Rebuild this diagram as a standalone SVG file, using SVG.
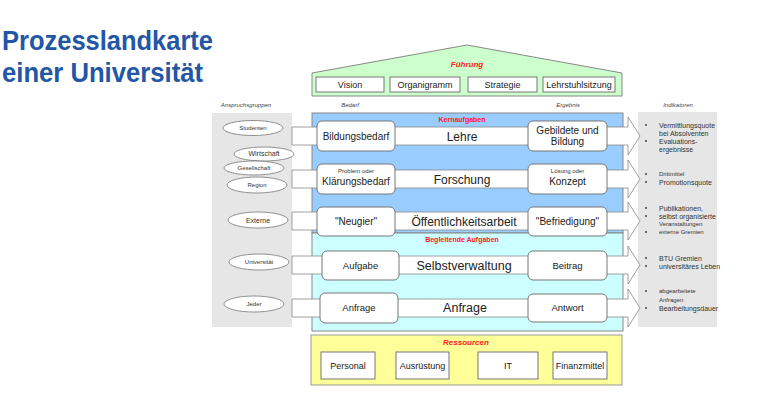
<svg xmlns="http://www.w3.org/2000/svg" width="759" height="417" viewBox="0 0 759 417">
<style>
text{font-family:"Liberation Sans",Arial,sans-serif;fill:#222}
.title{font-weight:bold;fill:#2356a5;font-size:27px}
.sec{fill:#ff2020;font-weight:bold;font-style:italic;font-size:8px}
.sec2{fill:#ff2020;font-weight:bold;font-size:7px}
.hdr{font-style:italic;font-size:6px;fill:#444}
.box{fill:#fff;stroke:#777;stroke-width:1}
.rbox{fill:#fff;stroke:#777;stroke-width:1}
.strip{fill:#fff;stroke:#888;stroke-width:0.8}
.ell{fill:#fff;stroke:#777;stroke-width:0.8}
.panel{fill:#e6e6e6}
.t9{font-size:9px;text-anchor:middle}
.t10{font-size:10px;text-anchor:middle}
.t6{font-size:6px;text-anchor:middle;fill:#333}
.main{font-size:12px;text-anchor:middle}
.ind{font-size:7px;fill:#333}
.ind6{font-size:6px;fill:#333}
</style>
<rect width="759" height="417" fill="#fff"/>
<g id="title">
<text class="title" x="2" y="50" textLength="211" lengthAdjust="spacingAndGlyphs">Prozesslandkarte</text>
<text class="title" x="2" y="82" textLength="201" lengthAdjust="spacingAndGlyphs">einer Universität</text>
</g>
<g id="fuehrung">
<polygon points="312,73 467,45 622,73 622,96 312,96" fill="#ccffcc" stroke="#888" stroke-width="1"/>
<text class="sec" x="467" y="67" text-anchor="middle">Führung</text>
<rect class="box" x="316" y="77" width="68" height="15"/>
<text class="t9" x="350" y="88">Vision</text>
<rect class="box" x="390" y="77" width="70" height="15"/>
<text class="t9" x="425" y="88">Organigramm</text>
<rect class="box" x="468" y="77" width="69" height="15"/>
<text class="t9" x="502.5" y="88">Strategie</text>
<rect class="box" x="543" y="77" width="72" height="15"/>
<text class="t9" x="579" y="88">Lehrstuhlsitzung</text>
</g>
<g id="headers">
<text class="hdr" x="246" y="107" text-anchor="middle">Anspruchsgruppen</text>
<text class="hdr" x="350" y="107" text-anchor="middle">Bedarf</text>
<text class="hdr" x="568" y="107" text-anchor="middle">Ergebnis</text>
<text class="hdr" x="678" y="107" text-anchor="middle">Indikatoren</text>
</g>
<g id="panels">
<rect class="panel" x="212" y="113" width="80" height="214"/>
<rect class="panel" x="638" y="112" width="79" height="215"/>
<rect x="312" y="113" width="311" height="120" fill="#99ccff" stroke="#888" stroke-width="1"/>
<rect x="312" y="233" width="311" height="98" fill="#ccffff" stroke="#888" stroke-width="1"/>
<text class="sec2" x="462" y="122" text-anchor="middle">Kernaufgaben</text>
<text class="sec2" x="462" y="242" text-anchor="middle">Begleitende Aufgaben</text>
</g>
<g id="stakeholders">
<ellipse class="ell" cx="253" cy="128" rx="30" ry="7.5"/>
<text class="t6" x="253" y="130">Studenten</text>
<ellipse class="ell" cx="264" cy="154" rx="30" ry="7"/>
<text class="t6" x="264" y="156" style="font-size:7px">Wirtschaft</text>
<ellipse class="ell" cx="254" cy="168" rx="30" ry="7"/>
<text class="t6" x="254" y="170">Gesellschaft</text>
<ellipse class="ell" cx="257" cy="185" rx="30" ry="8"/>
<text class="t6" x="257" y="187">Region</text>
<ellipse class="ell" cx="258" cy="220" rx="30" ry="8"/>
<text class="t6" x="258" y="222.5" style="font-size:7px">Externe</text>
<ellipse class="ell" cx="259" cy="262" rx="30" ry="8"/>
<text class="t6" x="259" y="264">Universität</text>
<ellipse class="ell" cx="254" cy="304" rx="30" ry="8"/>
<text class="t6" x="254" y="306">Jeder</text>
</g>
<g id="connectors">
<polygon class="strip" points="292,127 628,127 628,117 640,136 628,155 628,145 292,145"/>
<polygon class="strip" points="292,170 628,170 628,160 640,179 628,198 628,188 292,188"/>
<polygon class="strip" points="292,212 628,212 628,202 640,221 628,240 628,230 292,230"/>
<polygon class="strip" points="292,256 628,256 628,246 640,265 628,284 628,274 292,274"/>
<polygon class="strip" points="292,299 628,299 628,289 640,308 628,327 628,317 292,317"/>
</g>
<g id="row-lehre">
<rect class="rbox" x="317" y="121" width="78" height="30" rx="5"/>
<text class="t10" x="356" y="139.5">Bildungsbedarf</text>
<text class="main" x="462" y="140.5">Lehre</text>
<rect class="rbox" x="528" y="121" width="79" height="30" rx="5"/>
<text class="t10" x="567.5" y="133.5">Gebildete und</text>
<text class="t10" x="567.5" y="145">Bildung</text>
</g>
<g id="row-forschung">
<rect class="rbox" x="317" y="164" width="78" height="30" rx="5"/>
<text class="t6" x="356" y="172.5">Problem oder</text>
<text class="t10" x="356" y="185">Klärungsbedarf</text>
<text class="main" x="462" y="183.5">Forschung</text>
<rect class="rbox" x="528" y="164" width="79" height="30" rx="5"/>
<text class="t6" x="567.5" y="172.5">Lösung oder</text>
<text class="t10" x="567.5" y="185">Konzept</text>
</g>
<g id="row-oeffentlichkeit">
<rect class="rbox" x="317" y="207" width="78" height="29" rx="5"/>
<text class="t10" x="356" y="224.5">"Neugier"</text>
<text class="main" x="464" y="225.5">Öffentlichkeitsarbeit</text>
<rect class="rbox" x="528" y="207" width="79" height="29" rx="5"/>
<text class="t10" x="567.5" y="224.5">"Befriedigung"</text>
</g>
<g id="row-selbstverwaltung">
<rect class="rbox" x="322" y="251" width="77" height="29" rx="5"/>
<text class="t9" x="360.5" y="268.5" style="font-size:9.5px">Aufgabe</text>
<text class="main" x="464" y="269.5" style="font-size:12.5px">Selbstverwaltung</text>
<rect class="rbox" x="528" y="251" width="79" height="29" rx="5"/>
<text class="t9" x="567.5" y="268.5" style="font-size:9.5px">Beitrag</text>
</g>
<g id="row-anfrage">
<rect class="rbox" x="320" y="293" width="78" height="30" rx="5"/>
<text class="t9" x="359" y="311" style="font-size:9.5px">Anfrage</text>
<text class="main" x="465" y="312" style="font-size:12.5px">Anfrage</text>
<rect class="rbox" x="528" y="294" width="79" height="28" rx="5"/>
<text class="t9" x="567.5" y="311" style="font-size:9.5px">Antwort</text>
</g>
<g id="indicators">
<g fill="#333">
<circle cx="646" cy="125" r="0.9"/><circle cx="646" cy="141" r="0.9"/>
<circle cx="646" cy="174" r="0.9"/><circle cx="646" cy="182" r="0.9"/>
<circle cx="646" cy="208" r="0.9"/><circle cx="646" cy="216" r="0.9"/><circle cx="646" cy="232" r="0.9"/>
<circle cx="646" cy="258" r="0.9"/><circle cx="646" cy="266" r="0.9"/>
<circle cx="646" cy="291" r="0.9"/><circle cx="646" cy="308" r="0.9"/>
</g>
<text class="ind" x="659" y="127.5">Vermittlungsquote</text>
<text class="ind" x="659" y="135.5">bei Absolventen</text>
<text class="ind" x="659" y="143.5">Evaluations-</text>
<text class="ind" x="659" y="151.5">ergebnisse</text>
<text class="ind6" x="659" y="176">Drittmittel</text>
<text class="ind" x="659" y="184.5">Promotionsquote</text>
<text class="ind" x="659" y="210.5">Publikationen,</text>
<text class="ind" x="659" y="218.5">selbst organisierte</text>
<text class="ind6" x="659" y="226">Veranstaltungen</text>
<text class="ind6" x="659" y="234">externe Gremien</text>
<text class="ind" x="659" y="260.5">BTU Gremien</text>
<text class="ind" x="659" y="268.5">universitäres Leben</text>
<text class="ind6" x="659" y="293">abgearbeitete</text>
<text class="ind6" x="659" y="301.5">Anfragen</text>
<text class="ind" x="659" y="310.5">Bearbeitungsdauer</text>
</g>
<g id="ressourcen">
<rect x="311" y="335" width="311" height="50" fill="#ffff99" stroke="#999" stroke-width="1"/>
<text class="sec" x="466" y="345" text-anchor="middle">Ressourcen</text>
<rect class="box" x="321" y="352" width="54" height="27"/>
<text class="t9" x="348" y="368.5">Personal</text>
<rect class="box" x="396" y="352" width="53" height="27"/>
<text class="t9" x="422.5" y="368.5">Ausrüstung</text>
<rect class="box" x="478" y="352" width="60" height="27"/>
<text class="t9" x="508" y="368.5">IT</text>
<rect class="box" x="553" y="352" width="54" height="27"/>
<text class="t9" x="580" y="368.5">Finanzmittel</text>
</g>
</svg>
